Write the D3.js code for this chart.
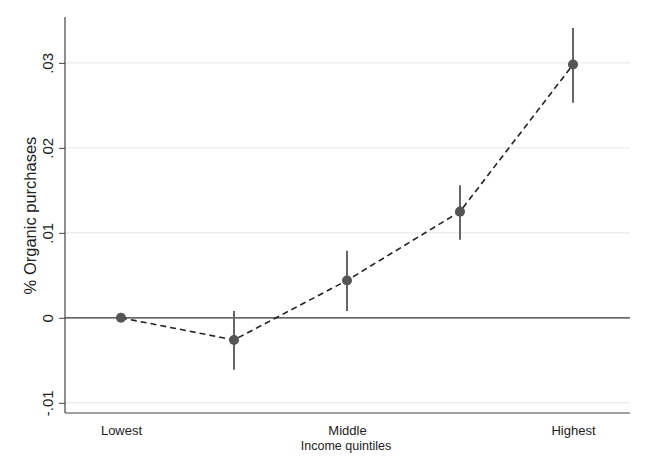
<!DOCTYPE html>
<html><head><meta charset="utf-8">
<script src="https://cdn.jsdelivr.net/npm/d3@7"></script>
<style>body{margin:0;background:#fff}svg{display:block}text{font-family:"Liberation Sans",Arial,sans-serif;fill:#222}</style>
</head><body><svg id="c" width="645" height="473"></svg>
<script>
const categories = ["Lowest","Q2","Middle","Q4","Highest"];
const tickLabels = ["Lowest","","Middle","","Highest"];
const estimates = [0, -0.0026, 0.0044, 0.0125, 0.0298];
const ciLow = [0, -0.0061, 0.0008, 0.0092, 0.0253];
const ciHigh = [0, 0.0008, 0.0079, 0.0156, 0.0341];
const yTicks = [-0.01, 0, 0.01, 0.02, 0.03];
const yTickLabels = ["-.01","0",".01",".02",".03"];

const svg = d3.select("#c");
const L=65, R=630, T=17, B=413;
const x = d3.scalePoint().domain(categories).range([121,573]);
const y = d3.scaleLinear().domain([-0.0112,0.0354]).range([B,T]);

// gridlines
svg.append("g").selectAll("line").data(yTicks.filter(d=>d!==0)).join("line")
  .attr("x1",L).attr("x2",R).attr("y1",d=>y(d)).attr("y2",d=>y(d))
  .attr("stroke","#e6e6e6").attr("stroke-width",1);

// zero line
svg.append("line").attr("x1",L).attr("x2",R).attr("y1",y(0)).attr("y2",y(0))
  .attr("stroke","#333").attr("stroke-width",1.3);

// y axis
const ya = svg.append("g").attr("transform",`translate(${L},0)`)
  .call(d3.axisLeft(y).tickValues(yTicks).tickSize(6).tickFormat((d,i)=>yTickLabels[i]));
ya.select(".domain").attr("stroke","#444").attr("stroke-width",1.2).attr("d",`M-0,${T}V${B}`);
ya.selectAll(".tick line").attr("stroke","#444");
ya.selectAll(".tick text").attr("transform","rotate(-90)").attr("x",0).attr("y",-12)
  .attr("dy","0").attr("text-anchor","middle").attr("font-size",15).style("fill","#222")
  .attr("font-family","Liberation Sans, Arial, sans-serif");

// x axis
const xa = svg.append("g").attr("transform",`translate(0,${B})`)
  .call(d3.axisBottom(x).tickSize(0).tickFormat((d,i)=>tickLabels[i]));
xa.select(".domain").attr("stroke","#444").attr("stroke-width",1.2).attr("d",`M${L},0H${R}`);
xa.selectAll(".tick text").attr("y",13).attr("font-size",13).style("fill","#222")
  .attr("font-family","Liberation Sans, Arial, sans-serif");

// titles
svg.append("text").attr("x",346).attr("y",450).attr("text-anchor","middle").attr("font-size",12.5).text("Income quintiles");
svg.append("text").attr("transform","translate(36,215.5) rotate(-90)").attr("text-anchor","middle").attr("font-size",16.5).text("% Organic purchases");

// error bars
svg.append("g").selectAll("line").data(categories.map((c,i)=>({c,lo:ciLow[i],hi:ciHigh[i]})).filter(d=>d.lo!==d.hi))
  .join("line").attr("x1",d=>x(d.c)).attr("x2",d=>x(d.c)).attr("y1",d=>y(d.lo)).attr("y2",d=>y(d.hi))
  .attr("stroke","#666").attr("stroke-width",2);

// dashed line
const line = d3.line().x((d,i)=>x(categories[i])).y(d=>y(d));
svg.append("path").attr("d",line(estimates)).attr("fill","none").attr("stroke","#222")
  .attr("stroke-width",1.6).attr("stroke-dasharray","6,4");

// points
svg.append("g").selectAll("circle").data(estimates).join("circle")
  .attr("cx",(d,i)=>x(categories[i])).attr("cy",d=>y(d)).attr("r",5).attr("fill","#555");
</script></body></html>
